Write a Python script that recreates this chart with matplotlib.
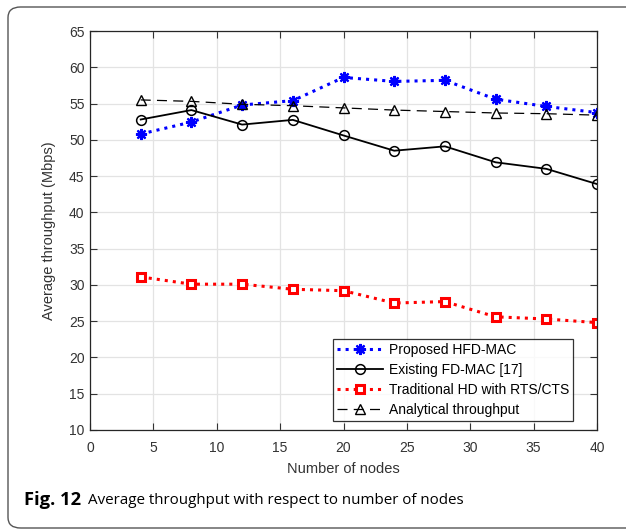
import matplotlib
matplotlib.use('Agg')
import matplotlib.pyplot as plt
from matplotlib.patches import FancyBboxPatch

# data
nodes = [4, 8, 12, 16, 20, 24, 28, 32, 36, 40]
hfd_mac = [50.8, 52.45, 54.8, 55.4, 58.6, 58.05, 58.2, 55.6, 54.6, 53.75]
fd_mac = [52.8, 54.1, 52.1, 52.75, 50.6, 48.5, 49.1, 46.9, 46.0, 43.9]
hd_rts = [31.1, 30.1, 30.1, 29.4, 29.2, 27.5, 27.7, 25.6, 25.3, 24.8]
analytical = [55.5, 55.3, 54.9, 54.7, 54.4, 54.1, 53.9, 53.7, 53.6, 53.4]

labels = ['Proposed HFD-MAC', 'Existing FD-MAC [17]',
          'Traditional HD with RTS/CTS', 'Analytical throughput']
xticks = [0, 5, 10, 15, 20, 25, 30, 35, 40]
yticks = [10, 15, 20, 25, 30, 35, 40, 45, 50, 55, 60, 65]

plt.rcParams['font.family'] = ['Liberation Sans', 'DejaVu Sans']

fig = plt.figure(figsize=(6.26, 5.30), dpi=100)
ax = fig.add_axes([0.1438, 0.1887, 0.8099, 0.7528])

# matlab-like asterisk (8 spokes)
ax.plot(nodes, hfd_mac, color='#0000ff', linestyle=':', linewidth=2.2,
        marker=(8, 2, 0), markersize=8, markeredgewidth=1.6, label=labels[0])
ax.plot(nodes, fd_mac, color='black', linestyle='-', linewidth=1.3,
        marker='o', markersize=7, markerfacecolor='none', markeredgewidth=1.1,
        label=labels[1])
ax.plot(nodes, hd_rts, color='#ff0000', linestyle=':', linewidth=2.2,
        marker='s', markersize=5.5, markerfacecolor='white', markeredgewidth=2.2,
        label=labels[2])
ax.plot(nodes, analytical, color='black', linestyle=(0, (8, 5)), linewidth=0.9,
        marker='^', markersize=7.5, markerfacecolor='none', markeredgewidth=1.0,
        label=labels[3])

ax.set_xlim(0, 40)
ax.set_ylim(10, 65)
ax.set_xticks(xticks)
ax.set_yticks(yticks)
ax.grid(True, color='#e3e3e3', linewidth=0.9)
ax.set_axisbelow(True)
ax.tick_params(direction='in', top=True, right=True, length=5, width=0.8,
               labelsize=10, colors='#333333')
ax.tick_params(axis='x', pad=8)
ax.tick_params(axis='y', pad=4)
for s in ax.spines.values():
    s.set_color('#262626')
    s.set_linewidth(0.9)

ax.set_xlabel('Number of nodes', fontsize=10.5, color='#333333', labelpad=5)
ax.set_ylabel('Average throughput (Mbps)', fontsize=10.5, color='#333333', labelpad=9)

leg = ax.legend(loc='lower right', bbox_to_anchor=(0.9535, 0.0225), fontsize=10,
                frameon=True, fancybox=False, edgecolor='black', borderpad=0.3,
                labelspacing=0.42, handlelength=3.3, handletextpad=0.45,
                borderaxespad=0)
leg.get_frame().set_linewidth(0.9)

# outer rounded frame around figure + caption
box = FancyBboxPatch((8 / 626, 2 / 530), 1.2, 521 / 530,
                     boxstyle='round,pad=0,rounding_size=0.02',
                     transform=fig.transFigure, facecolor='none',
                     edgecolor='#555555', linewidth=1.0, clip_on=False)
fig.patches.append(box)

fig.text(24 / 626, 1 - 500 / 530, 'Fig. 12', fontsize=13.2, fontweight='bold',
         family='Open Sans', va='center', ha='left')
fig.text(88 / 626, 1 - 500 / 530, 'Average throughput with respect to number of nodes',
         fontsize=10.9, family='Open Sans', va='center', ha='left')

fig.savefig('out.png', dpi=100)
